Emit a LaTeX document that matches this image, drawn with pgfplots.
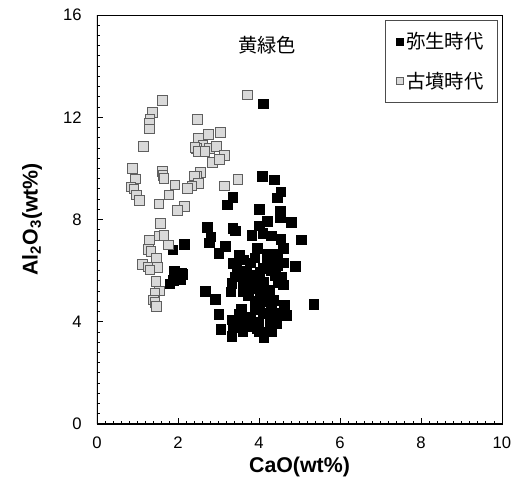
\documentclass[border=0pt]{standalone}
\usepackage{fontspec}
\setmainfont{Liberation Sans}
\newfontfamily\cjk{Noto Sans CJK JP}
\usepackage{pgfplots}
\pgfplotsset{compat=1.18}
\usepackage{pgfplotstable}
\definecolor{gfill}{RGB}{217,217,217}
\definecolor{gedge}{RGB}{95,95,95}

\pgfplotstableread{
x y
4.10 12.52
4.08 9.68
4.38 9.55
4.54 9.09
4.45 8.85
3.35 8.87
3.22 8.57
4.01 8.40
4.52 8.33
4.52 8.07
4.21 7.92
4.80 7.88
4.01 7.75
2.72 7.70
3.35 7.66
3.41 7.56
3.82 7.39
4.09 7.46
4.31 7.36
2.81 7.33
2.77 7.09
5.04 7.20
4.54 7.23
2.15 7.03
3.16 6.96
3.96 6.87
4.60 6.87
3.01 6.68
3.51 6.59
4.19 6.65
4.45 6.65
3.61 6.42
3.37 6.29
3.79 6.31
4.21 6.31
4.60 6.31
4.89 6.18
4.45 6.22
3.45 6.09
4.02 5.96
4.31 6.00
2.11 5.86
2.07 5.67
3.41 5.76
3.82 5.83
4.56 5.76
3.61 5.63
4.11 5.57
4.48 5.53
3.33 5.50
4.60 5.44
3.78 5.31
4.27 5.24
2.67 5.20
3.30 5.18
4.02 5.11
3.74 5.01
2.92 4.88
4.35 4.85
4.15 4.79
4.62 4.66
5.35 4.68
3.56 4.49
3.90 4.49
3.01 4.30
4.52 4.33
4.68 4.26
4.11 4.33
3.72 4.20
4.27 4.13
3.33 4.07
3.98 4.00
3.53 3.94
4.44 3.94
3.06 3.70
3.37 3.78
3.74 3.81
4.27 3.81
3.33 3.44
4.12 3.39
3.94 3.74
1.87 6.81
1.91 6.00
2.09 5.89
1.97 5.76
1.80 5.48
1.88 5.63
3.90 5.60
4.00 5.40
4.20 5.00
3.60 5.20
3.90 4.80
4.30 4.50
3.80 4.10
4.00 4.60
3.50 5.90
3.70 6.00
4.10 6.10
3.90 6.50
4.40 5.80
4.30 3.60
3.60 3.60
4.00 3.60
3.50 4.30
3.80 5.50
}\yayoi

\pgfplotstableread{
x y
1.62 12.65
3.72 12.87
1.37 12.18
1.31 11.92
1.29 11.76
1.30 11.54
2.48 11.92
1.14 10.85
2.75 11.33
3.05 11.41
2.52 11.11
2.50 11.18
2.62 10.92
2.46 10.78
2.42 10.81
2.77 10.78
2.95 10.85
2.50 10.65
2.67 10.65
3.14 10.50
2.85 10.24
3.02 10.35
0.88 10.00
0.95 9.59
0.84 9.28
0.91 9.19
0.98 8.96
1.05 8.74
1.61 9.88
1.63 9.72
1.65 9.61
1.93 9.35
1.78 8.96
1.53 8.61
2.56 9.84
2.46 9.69
2.40 9.70
2.50 9.42
2.34 9.31
2.24 9.21
3.48 9.57
3.14 9.31
2.16 8.50
1.98 8.35
1.57 7.85
1.29 7.20
1.54 7.36
1.65 7.37
1.76 7.00
1.27 6.83
1.33 6.74
1.47 6.48
1.12 6.25
1.27 6.15
1.49 6.12
1.31 6.03
1.46 5.57
1.54 5.20
1.43 5.11
1.39 4.85
1.43 4.76
1.47 4.59
}\kofun

\begin{document}
\begin{tikzpicture}
\begin{axis}[
  scale only axis,
  width=303.75pt, height=306.75pt,
  xmin=0, xmax=10, ymin=0, ymax=16,
  xtick={0,2,...,10}, ytick={0,4,...,16},
  minor x tick num=9, minor y tick num=9,
  tick align=inside, tick pos=left,
  major tick length=4.5pt, minor tick length=2.6pt,
  every tick/.style={black, line width=0.6pt},
  axis line style={line width=0.6pt},
  ticklabel style={font=\fontsize{12.5}{14}\selectfont},
  /pgf/number format/assume math mode=true,
  xticklabel style={yshift=-6pt},
  yticklabel style={xshift=-8pt},
  xlabel={\bfseries CaO(wt\%)},
  ylabel={\bfseries Al\textsubscript{2}O\textsubscript{3}(wt\%)},
  label style={font=\fontsize{16}{18}\selectfont},
  xlabel style={at={(axis description cs:0.5,-0.1060)}, anchor=center},
  ylabel style={at={(axis description cs:-0.1605,0.5)}, anchor=center},
  legend style={at={(axis description cs:0.990,0.988)}, anchor=north east,
    draw=black!70, line width=0.6pt,
    font=\cjk\fontsize{14.5}{17}\selectfont,
    inner xsep=8.5pt, inner ysep=7pt, row sep=12pt},
  legend cell align=left,
  legend image code/.code={\draw[mark size=2.6pt, line width=0.5pt] plot coordinates {(0.2cm,0cm)};},
]
\addplot[only marks, mark=square*, mark size=3.6pt, mark options={fill=black, draw=black}] table {\yayoi};
\addlegendentry{弥生時代}
\addplot[only marks, mark=square*, mark size=3.6pt, mark options={fill=gfill, draw=gedge, line width=0.7pt}] table {\kofun};
\addlegendentry{古墳時代}
\node[font=\cjk\fontsize{14.5}{17}\selectfont] at (axis cs:4.2,14.83) {黄緑色};
\draw[line width=1.4pt] (rel axis cs:0,1) -- (rel axis cs:0,0) -- (rel axis cs:1,0);
\end{axis}
\path ([xshift=-72.75pt,yshift=-52.5pt]current axis.south west) rectangle ([xshift=12pt,yshift=11.25pt]current axis.north east);
\end{tikzpicture}
\end{document}
